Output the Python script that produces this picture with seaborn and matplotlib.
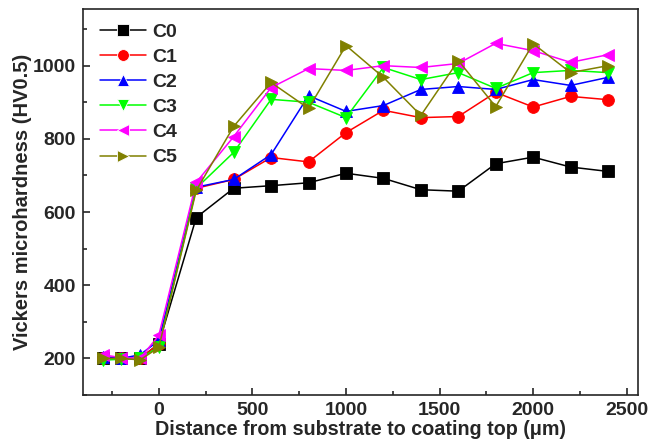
import numpy as np
import pandas as pd
import matplotlib
matplotlib.use("Agg")
import matplotlib.pyplot as plt
from matplotlib.ticker import MultipleLocator
import seaborn as sns

sns.set_style("ticks")
plt.rcParams['font.family'] = ['Liberation Sans', 'DejaVu Sans']
plt.rcParams['font.weight'] = 'bold'

# distancia (um)
distancia = [-300, -200, -100, 0, 200, 400, 600, 800, 1000, 1200, 1400, 1600, 1800, 2000, 2200, 2400]

c0 = [200, 200, 200, 240, 585, 665, 672, 680, 706, 692, 661, 657, 732, 750, 723, 711]
c1 = [200, 200, 200, 240, 665, 689, 749, 737, 817, 878, 858, 861, 927, 887, 916, 907]
c2 = [205, 200, 210, 249, 668, 689, 757, 918, 875, 891, 935, 943, 935, 962, 946, 968]
c3 = [195, 198, 200, 232, 665, 763, 908, 900, 858, 995, 962, 981, 938, 981, 987, 981]
c4 = [210, 202, 200, 263, 681, 806, 940, 992, 987, 1000, 995, 1006, 1061, 1041, 1009, 1030]
c5 = [200, 200, 196, 230, 659, 834, 954, 883, 1055, 968, 864, 1014, 888, 1060, 981, 1000]

amostras = ["C0", "C1", "C2", "C3", "C4", "C5"]
series = [c0, c1, c2, c3, c4, c5]
cores = ["black", "#ff0000", "#0000ff", "#00ff00", "#ff00ff", "#808000"]
marcadores = ["s", "o", "^", "v", "<", ">"]

dados = pd.DataFrame({
    "dist": np.tile(distancia, len(amostras)),
    "hv": np.concatenate(series),
    "amostra": np.repeat(amostras, len(distancia)),
})

fig = plt.figure(figsize=(6.51, 4.47), dpi=100)
ax = fig.add_axes([0.1275, 0.1163, 0.8525, 0.8637])

sns.lineplot(data=dados, x="dist", y="hv", hue="amostra", style="amostra",
             palette=dict(zip(amostras, cores)),
             markers=dict(zip(amostras, marcadores)), dashes=False,
             markersize=8.5, markeredgewidth=0.6, linewidth=1.1, ax=ax)

for ln, c in zip(ax.lines, cores):
    ln.set_markeredgecolor(c)

ax.set_xlim(-405, 2560)
ax.set_ylim(100, 1155)
ax.xaxis.set_major_locator(MultipleLocator(500))
ax.xaxis.set_minor_locator(MultipleLocator(250))
ax.yaxis.set_major_locator(MultipleLocator(200))
ax.yaxis.set_minor_locator(MultipleLocator(100))
ax.tick_params(which="both", direction="in", top=False, right=False, width=1.2)
ax.tick_params(which="major", length=5, labelsize=14, pad=5)
ax.tick_params(which="minor", length=3)
for s in ax.spines.values():
    s.set_linewidth(1.2)
    s.set_visible(True)

ax.set_xlabel("Distance from substrate to coating top (\u03bcm)", fontsize=14.2, fontweight="bold", labelpad=1)
ax.set_ylabel("Vickers microhardness (HV0.5)", fontsize=14.5, fontweight="bold", labelpad=1)

leg = ax.legend(loc="upper left", bbox_to_anchor=(0.016, 0.984), frameon=False,
                fontsize=14, handlelength=2.4, labelspacing=0.39,
                borderaxespad=0, borderpad=0.4, handletextpad=0.3)
for t in leg.get_texts():
    t.set_fontweight("bold")

fig.savefig("out.png", dpi=100)
